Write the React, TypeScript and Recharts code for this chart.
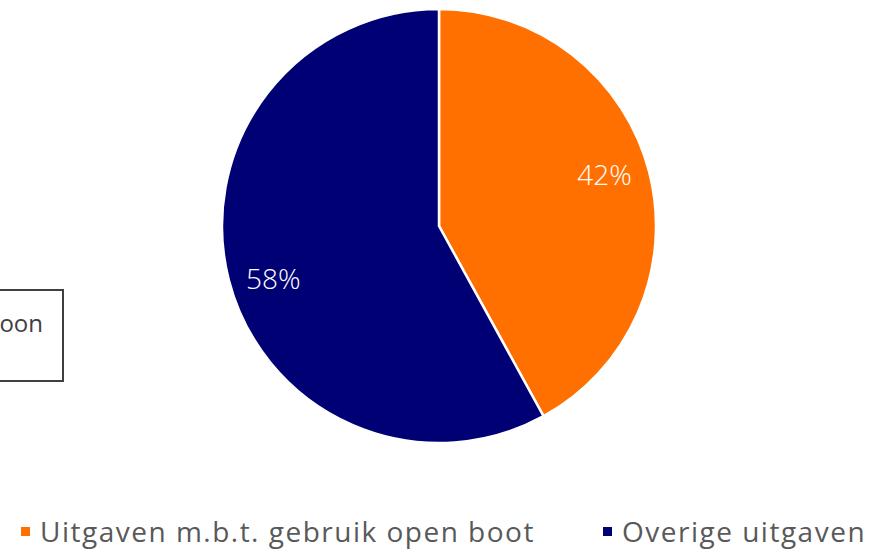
import { PieChart, Pie, Cell, Legend } from 'recharts'

const categories = ['Uitgaven m.b.t. gebruik open boot', 'Overige uitgaven']
const shares = [42, 58]
const colors = ['#FF7000', '#000075']

const data = categories.map((name, i) => ({ name, value: shares[i] }))

const RAD = Math.PI / 180
const FONT = "'Open Sans', sans-serif"

function renderLabel(props: any) {
  const { cx, cy, midAngle, outerRadius, value } = props
  const r = outerRadius * 0.8
  const a = midAngle + 3
  const x = cx + r * Math.cos(-a * RAD)
  const y = cy + r * Math.sin(-a * RAD)
  return (
    <text x={x} y={y} fill="#ffffff" textAnchor="middle" dominantBaseline="central" fontSize={28} fontFamily={FONT} fontWeight={300}>
      {value}%
    </text>
  )
}

// legend item positions (marker x, text x)
const legendPos = [
  { m: 21, t: 40 },
  { m: 603, t: 622 },
]

function renderLegend() {
  return (
    <div style={{ position: 'relative', width: 876, height: 40, fontFamily: FONT, fontSize: 28, color: '#595959', whiteSpace: 'nowrap' }}>
      {categories.map((c, i) => (
        <div key={c}>
          <span style={{ position: 'absolute', left: legendPos[i].m, top: 12, width: 9, height: 9, backgroundColor: colors[i] }} />
          <span style={{ position: 'absolute', left: legendPos[i].t, top: -3, letterSpacing: 1.5 }}>{c}</span>
        </div>
      ))}
    </div>
  )
}

export default function App() {
  return (
    <div style={{ position: 'absolute', left: 0, top: 0, width: 876, height: 549, background: '#fff', overflow: 'hidden' }}>
      <div
        style={{
          position: 'absolute', left: -60, top: 289, width: 124, height: 93,
          border: '2px solid #404040', boxSizing: 'border-box',
        }}
      />
      <span style={{ position: 'absolute', right: 876 - 43, top: 308, fontFamily: FONT, fontSize: 24, color: '#404040', lineHeight: '30px' }}>
        oon
      </span>
      <PieChart width={876} height={549} margin={{ top: 0, right: 0, bottom: 0, left: 0 }} style={{ position: 'absolute', left: 0, top: 0 }}>
        <Pie
          data={data}
          dataKey="value"
          nameKey="name"
          cx={439}
          cy={226}
          outerRadius={217}
          startAngle={90}
          endAngle={-270}
          stroke="#ffffff"
          strokeWidth={2.5}
          label={renderLabel}
          labelLine={false}
          isAnimationActive={false}
        >
          {data.map((d, i) => (
            <Cell key={d.name} fill={colors[i]} />
          ))}
        </Pie>
        <Legend content={renderLegend} verticalAlign="bottom" align="left" wrapperStyle={{ left: 0, top: 515, width: 876, height: 40 }} />
      </PieChart>
    </div>
  )
}
